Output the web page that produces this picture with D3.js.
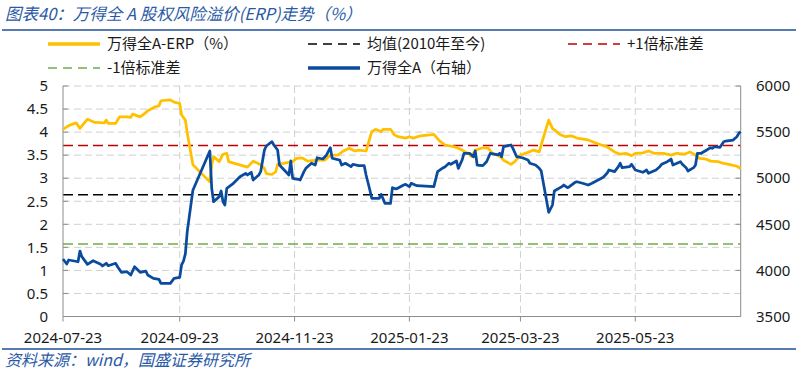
<!DOCTYPE html>
<html><head><meta charset="utf-8">
<script src="https://cdn.jsdelivr.net/npm/d3@7"></script>
<style>
html,body{margin:0;padding:0;background:#fff;}
svg{display:block;}
</style></head>
<body>
<svg id="c" width="810" height="374"></svg>
<script>
const title = "图表40：万得全 A 股权风险溢价(ERP)走势（%）";
const source = "资料来源：wind，国盛证券研究所";
const legendLabels = ["万得全A-ERP（%）","均值(2010年至今)","+1倍标准差","-1倍标准差","万得全A（右轴）"];
const xTickDates = ["2024-07-23","2024-09-23","2024-11-23","2025-01-23","2025-03-23","2025-05-23"];
const xDomain = ["2024-07-23","2025-07-18"];
const leftTicks = [0,0.5,1,1.5,2,2.5,3,3.5,4,4.5,5];
const rightTicks = [3500,4000,4500,5000,5500,6000];
const meanValue = 2.64, plusStd = 3.71, minusStd = 1.57;

const erpDates = ["2024-07-23","2024-07-26","2024-07-30","2024-08-01","2024-08-05","2024-08-09","2024-08-14","2024-08-15","2024-08-16","2024-08-20","2024-08-22","2024-08-26","2024-08-28","2024-08-29","2024-09-02","2024-09-04","2024-09-06","2024-09-10","2024-09-12","2024-09-13","2024-09-18","2024-09-20","2024-09-23","2024-09-24","2024-09-26","2024-09-27","2024-09-30","2024-10-09","2024-10-10","2024-10-11","2024-10-14","2024-10-16","2024-10-18","2024-10-19","2024-10-23","2024-10-29","2024-11-01","2024-11-05","2024-11-07","2024-11-08","2024-11-11","2024-11-13","2024-11-14","2024-11-17","2024-11-22","2024-11-24","2024-11-27","2024-11-30","2024-12-05","2024-12-09","2024-12-12","2024-12-16","2024-12-19","2024-12-22","2024-12-25","2024-12-27","2024-12-31","2025-01-03","2025-01-05","2025-01-08","2025-01-09","2025-01-13","2025-01-15","2025-01-17","2025-01-21","2025-01-23","2025-01-25","2025-01-29","2025-02-05","2025-02-08","2025-02-11","2025-02-16","2025-02-18","2025-02-20","2025-02-23","2025-02-25","2025-02-27","2025-03-03","2025-03-06","2025-03-08","2025-03-11","2025-03-13","2025-03-14","2025-03-18","2025-03-20","2025-03-23","2025-03-27","2025-03-30","2025-04-02","2025-04-03","2025-04-07","2025-04-09","2025-04-13","2025-04-16","2025-04-19","2025-04-22","2025-04-28","2025-05-01","2025-05-05","2025-05-08","2025-05-12","2025-05-15","2025-05-18","2025-05-21","2025-05-23","2025-05-27","2025-05-30","2025-06-02","2025-06-07","2025-06-11","2025-06-14","2025-06-18","2025-06-21","2025-06-24","2025-06-26","2025-06-29","2025-07-02","2025-07-06","2025-07-09","2025-07-13","2025-07-16","2025-07-18"];
const erpValues = [4.06,4.14,4.20,4.08,4.28,4.21,4.20,4.26,4.19,4.19,4.33,4.33,4.32,4.39,4.33,4.39,4.46,4.55,4.57,4.68,4.70,4.65,4.62,4.37,4.26,3.98,3.29,2.92,3.29,3.47,3.36,3.52,3.54,3.36,3.31,3.24,3.37,3.29,3.21,3.10,3.08,3.14,3.30,3.32,3.36,3.43,3.44,3.37,3.39,3.39,3.50,3.50,3.59,3.65,3.59,3.61,3.59,4.01,4.06,4.01,4.06,4.06,3.94,3.90,3.87,3.90,3.87,3.92,3.95,3.81,3.72,3.68,3.65,3.61,3.54,3.47,3.61,3.66,3.65,3.54,3.50,3.44,3.39,3.30,3.36,3.50,3.56,3.61,3.57,3.72,4.26,4.08,3.95,3.90,3.92,3.87,3.83,3.78,3.72,3.68,3.57,3.52,3.54,3.49,3.54,3.55,3.59,3.54,3.54,3.50,3.54,3.52,3.57,3.50,3.43,3.42,3.37,3.36,3.32,3.29,3.26,3.21];

const idxDates = ["2024-07-23","2024-07-25","2024-07-26","2024-07-29","2024-07-31","2024-08-01","2024-08-02","2024-08-05","2024-08-08","2024-08-12","2024-08-13","2024-08-15","2024-08-16","2024-08-20","2024-08-21","2024-08-23","2024-08-26","2024-08-28","2024-08-30","2024-09-02","2024-09-05","2024-09-06","2024-09-09","2024-09-12","2024-09-13","2024-09-18","2024-09-20","2024-09-23","2024-09-24","2024-09-25","2024-09-26","2024-09-27","2024-09-30","2024-10-09","2024-10-10","2024-10-11","2024-10-14","2024-10-15","2024-10-16","2024-10-17","2024-10-18","2024-10-21","2024-10-23","2024-10-25","2024-10-28","2024-10-29","2024-10-31","2024-11-01","2024-11-04","2024-11-05","2024-11-07","2024-11-08","2024-11-11","2024-11-12","2024-11-14","2024-11-15","2024-11-18","2024-11-20","2024-11-21","2024-11-22","2024-11-25","2024-11-26","2024-11-28","2024-11-29","2024-12-02","2024-12-04","2024-12-05","2024-12-08","2024-12-10","2024-12-12","2024-12-13","2024-12-17","2024-12-18","2024-12-20","2024-12-23","2024-12-24","2024-12-27","2024-12-30","2024-12-31","2025-01-02","2025-01-03","2025-01-07","2025-01-08","2025-01-10","2025-01-13","2025-01-14","2025-01-16","2025-01-20","2025-01-21","2025-01-23","2025-01-24","2025-01-27","2025-02-05","2025-02-07","2025-02-10","2025-02-11","2025-02-13","2025-02-14","2025-02-17","2025-02-18","2025-02-20","2025-02-21","2025-02-24","2025-02-26","2025-02-27","2025-02-28","2025-03-03","2025-03-05","2025-03-07","2025-03-11","2025-03-12","2025-03-13","2025-03-14","2025-03-18","2025-03-19","2025-03-21","2025-03-24","2025-03-27","2025-03-28","2025-03-31","2025-04-02","2025-04-03","2025-04-07","2025-04-09","2025-04-10","2025-04-14","2025-04-15","2025-04-17","2025-04-18","2025-04-21","2025-04-22","2025-04-25","2025-04-28","2025-04-30","2025-05-06","2025-05-08","2025-05-09","2025-05-12","2025-05-14","2025-05-15","2025-05-16","2025-05-20","2025-05-21","2025-05-23","2025-05-27","2025-05-29","2025-05-30","2025-06-03","2025-06-05","2025-06-06","2025-06-09","2025-06-11","2025-06-12","2025-06-16","2025-06-17","2025-06-19","2025-06-20","2025-06-23","2025-06-24","2025-06-25","2025-06-27","2025-06-30","2025-07-02","2025-07-03","2025-07-04","2025-07-07","2025-07-09","2025-07-10","2025-07-14","2025-07-15","2025-07-16","2025-07-17","2025-07-18"];
const idxValues = [4124,4069,4113,4102,4094,4210,4149,4066,4105,4066,4048,4077,4051,4077,4040,3979,3986,3950,4040,3979,3993,3950,3914,3903,3860,3860,3914,3925,4060,4100,4180,4420,4870,5295,4890,4745,4800,4861,4745,4710,4890,4935,4975,5016,5053,5035,5064,4980,5035,5071,5306,5349,5396,5360,5306,5143,5078,5035,5187,4999,4988,4980,5071,5107,5162,5143,5222,5208,5252,5331,5216,5197,5143,5162,5125,5151,5136,5136,5035,4872,4782,4782,4825,4728,4728,4897,4883,4926,4934,4908,4945,4919,4908,5071,5114,5125,5162,5151,5187,5107,5197,5270,5270,5233,5295,5143,5136,5179,5270,5252,5270,5233,5342,5360,5324,5233,5222,5197,5162,5143,5107,5080,4630,4709,4861,4908,4926,4897,4908,4955,4962,4945,4926,4945,5010,5053,5089,5071,5125,5162,5114,5125,5151,5089,5064,5089,5053,5089,5125,5151,5179,5208,5143,5179,5151,5114,5078,5114,5143,5270,5270,5306,5331,5324,5342,5335,5396,5403,5414,5433,5450,5487,5504];

const parse = d3.timeParse("%Y-%m-%d");
const svg = d3.select("#c");
const L = 63, R = 740.7, T = 86, B = 316.5;
const x = d3.scaleTime().domain(xDomain.map(parse)).range([L, R]);
const yL = d3.scaleLinear().domain([0,5]).range([B, T]);
const yR = d3.scaleLinear().domain([3500,6000]).range([B, T]);
const numFont = "'Noto Sans', 'Liberation Sans', sans-serif";
const cjkFont = "'Noto Sans CJK SC', sans-serif";
const blue = "#0B4B9E", gold = "#FFC000";

// Title
svg.append("text").attr("x", 5).attr("y", 20).text(title)
  .attr("font-family", cjkFont).attr("font-size", 16.5).attr("font-style", "italic")
  .attr("fill", "#2A5AA5");
svg.append("line").attr("x1", 2).attr("x2", 796).attr("y1", 30).attr("y2", 30)
  .attr("stroke", "#1F4E9A").attr("stroke-width", 1.5);

// Grid
const grid = svg.append("g");
grid.selectAll("line.h").data(leftTicks.filter(d => d > 0)).join("line")
  .attr("x1", L).attr("x2", R).attr("y1", d => yL(d)).attr("y2", d => yL(d))
  .attr("stroke", "#d0d0d0").attr("stroke-width", 1).attr("stroke-dasharray", "7,4");
grid.selectAll("line.v").data(xTickDates.slice(1)).join("line")
  .attr("x1", d => x(parse(d))).attr("x2", d => x(parse(d))).attr("y1", T).attr("y2", B)
  .attr("stroke", "#d0d0d0").attr("stroke-width", 1).attr("stroke-dasharray", "7,4");

// Reference lines
const refs = [
  {v: meanValue, c: "#000000"},
  {v: plusStd, c: "#C00000"},
  {v: minusStd, c: "#70AD47"}
];
svg.append("g").selectAll("line").data(refs).join("line")
  .attr("x1", x(parse(xDomain[0]))).attr("x2", x(parse(xDomain[1])))
  .attr("y1", d => yL(d.v)).attr("y2", d => yL(d.v))
  .attr("stroke", d => d.c).attr("stroke-width", 1.5).attr("stroke-dasharray", "10,5");

// Axes
const axG = svg.append("g").attr("stroke", "#8c8c8c").attr("stroke-width", 1);
axG.append("line").attr("x1", L).attr("x2", L).attr("y1", T).attr("y2", B);
axG.append("line").attr("x1", R).attr("x2", R).attr("y1", T).attr("y2", B);
axG.append("line").attr("x1", L).attr("x2", R).attr("y1", B).attr("y2", B);
axG.selectAll("line.lt").data(leftTicks).join("line").attr("class","lt")
  .attr("x1", L).attr("x2", L + 5).attr("y1", d => yL(d)).attr("y2", d => yL(d));
axG.selectAll("line.rt").data(rightTicks).join("line").attr("class","rt")
  .attr("x1", R - 5).attr("x2", R).attr("y1", d => yR(d)).attr("y2", d => yR(d));
axG.selectAll("line.bt").data(xTickDates).join("line").attr("class","bt")
  .attr("x1", d => x(parse(d))).attr("x2", d => x(parse(d))).attr("y1", B).attr("y2", B + 5);

svg.append("g").selectAll("text").data(leftTicks).join("text")
  .attr("x", 48).attr("y", d => yL(d)).attr("dy", "0.35em").attr("text-anchor", "end")
  .attr("font-family", numFont).attr("font-size", 15).attr("fill", "#1a1a1a").text(d => d);
svg.append("g").selectAll("text").data(rightTicks).join("text")
  .attr("x", 756).attr("y", d => yR(d)).attr("dy", "0.35em").attr("text-anchor", "start")
  .attr("font-family", numFont).attr("font-size", 15).attr("fill", "#1a1a1a").text(d => d);
svg.append("g").selectAll("text").data(xTickDates).join("text")
  .attr("x", d => x(parse(d))).attr("y", 338).attr("dy", "0.35em").attr("text-anchor", "middle")
  .attr("font-family", numFont).attr("font-size", 15).attr("fill", "#1a1a1a").text(d => d);

// Series
const erp = erpDates.map((d, i) => [parse(d), erpValues[i]]);
const idx = idxDates.map((d, i) => [parse(d), idxValues[i]]);
svg.append("path").datum(erp)
  .attr("d", d3.line().x(d => x(d[0])).y(d => yL(d[1])))
  .attr("fill", "none").attr("stroke", gold).attr("stroke-width", 2.75).attr("stroke-linejoin", "round");
svg.append("path").datum(idx)
  .attr("d", d3.line().x(d => x(d[0])).y(d => yR(d[1])))
  .attr("fill", "none").attr("stroke", blue).attr("stroke-width", 2.75).attr("stroke-linejoin", "round");

// Legend
const legendItems = [
  {label: legendLabels[0], c: gold, dash: null, w: 3.5, x: 48, y: 44},
  {label: legendLabels[1], c: "#000000", dash: "9,6", w: 1.5, x: 308, y: 44},
  {label: legendLabels[2], c: "#C00000", dash: "9,6", w: 1.5, x: 568, y: 44},
  {label: legendLabels[3], c: "#70AD47", dash: "9,6", w: 1.5, x: 48, y: 68},
  {label: legendLabels[4], c: blue, dash: null, w: 3.5, x: 308, y: 68}
];
const lg = svg.append("g").selectAll("g").data(legendItems).join("g")
  .attr("transform", d => `translate(${d.x},${d.y})`);
lg.append("line").attr("x1", 0).attr("x2", 52).attr("y1", 0).attr("y2", 0)
  .attr("stroke", d => d.c).attr("stroke-width", d => d.w)
  .attr("stroke-dasharray", d => d.dash);
lg.append("text").attr("x", 59).attr("y", 0).attr("dy", "0.35em")
  .attr("font-family", cjkFont).attr("font-size", 15).attr("fill", "#1a1a1a").text(d => d.label);

// Footer
svg.append("line").attr("x1", 2).attr("x2", 796).attr("y1", 349).attr("y2", 349)
  .attr("stroke", "#1F4E9A").attr("stroke-width", 1.5);
svg.append("text").attr("x", 5).attr("y", 366).text(source)
  .attr("font-family", cjkFont).attr("font-size", 16).attr("font-style", "italic")
  .attr("fill", "#2A5AA5");
</script>
</body></html>
